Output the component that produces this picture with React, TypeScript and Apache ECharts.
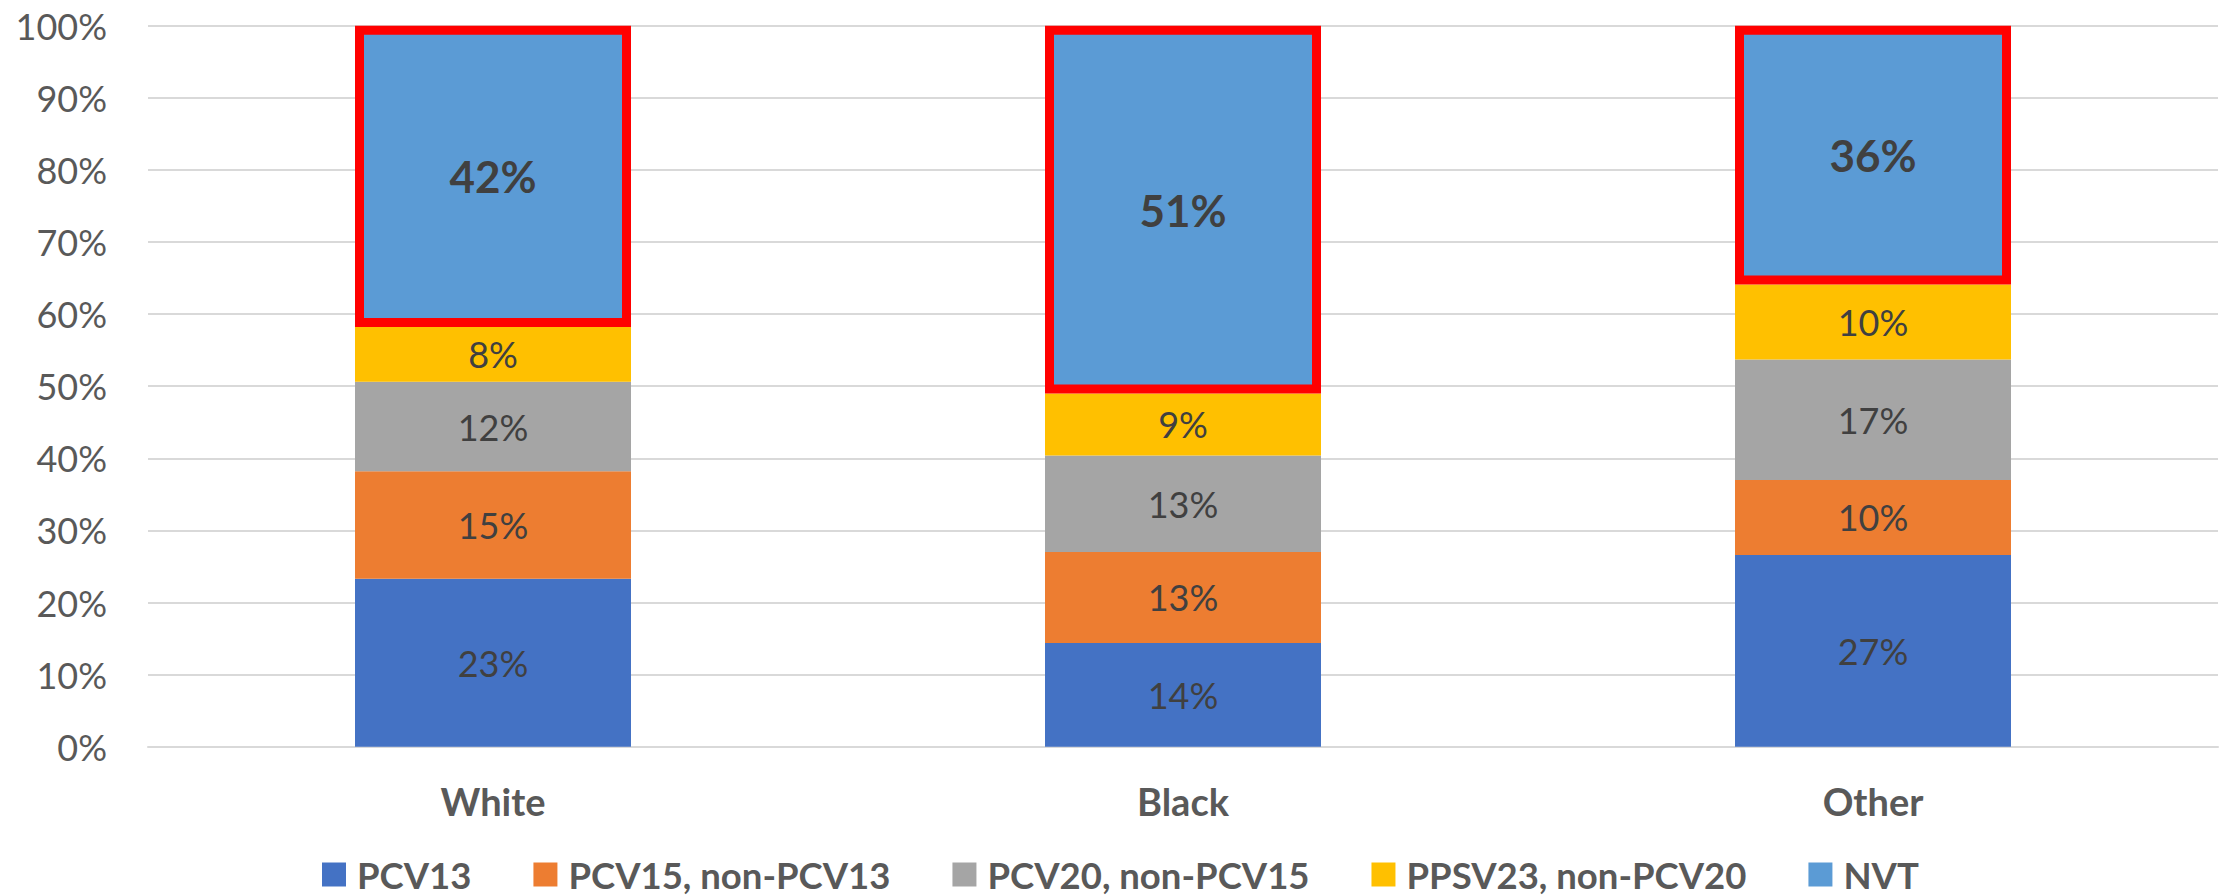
import React, { useEffect, useRef } from "react";
import * as echarts from "echarts";

const categories = ["White", "Black", "Other"];
const seriesNames = ["PCV13", "PCV15, non-PCV13", "PCV20, non-PCV15", "PPSV23, non-PCV20", "NVT"];
const pcv13 = [23.3, 14.4, 26.6];
const pcv15 = [14.9, 12.6, 10.4];
const pcv20 = [12.4, 13.4, 16.7];
const ppsv23 = [7.6, 8.6, 10.4];
const nvt = [41.8, 51.0, 35.9];
const colors = ["#4472C4", "#ED7D31", "#A5A5A5", "#FFC000", "#5B9BD5"];

const FONT = "Lato";

export default function App() {
  const ref = useRef<HTMLDivElement>(null);
  useEffect(() => {
    if (!ref.current) return;
    const chart = echarts.init(ref.current, undefined, { renderer: "svg" });
    const values = [pcv13, pcv15, pcv20, ppsv23, nvt];
    const series = values.map((data, i) => {
      const isNvt = i === 4;
      return {
        name: seriesNames[i],
        type: "bar",
        stack: "total",
        barWidth: "40%",
        data,
        itemStyle: isNvt
          ? { color: colors[i], borderColor: "#FF0000", borderWidth: 9 }
          : { color: colors[i] },
        label: {
          show: true,
          position: "inside",
          formatter: (p: any) => Math.round(p.value) + "%",
          fontFamily: FONT,
          fontSize: isNvt ? 44 : 36,
          fontWeight: isNvt ? "bold" : "normal",
          color: "#404040",
        },
      };
    });
    chart.setOption({
      animation: false,
      color: colors,
      grid: { left: 148, right: 3, top: 25.7, bottom: 149.3, containLabel: false },
      legend: {
        data: seriesNames.map((n) => ({ name: n, itemStyle: { borderWidth: 0 } })),
        top: 856,
        left: 322,
        padding: 0,
        icon: "rect",
        itemWidth: 24,
        itemHeight: 24,
        itemGap: 62,
        textStyle: {
          fontFamily: FONT,
          fontSize: 36.5,
          lineHeight: 34,
          fontWeight: "bold",
          color: "#595959",
          padding: [0, 0, 0, 6],
        },
      },
      xAxis: {
        type: "category",
        data: categories,
        axisLine: { show: true, lineStyle: { color: "#D9D9D9", width: 2 } },
        axisTick: { show: false },
        axisLabel: {
          fontFamily: FONT,
          fontSize: 38,
          fontWeight: "bold",
          color: "#595959",
          margin: 35,
        },
      },
      yAxis: {
        type: "value",
        min: 0,
        max: 100,
        interval: 10,
        axisLine: { show: false },
        axisTick: { show: false },
        splitLine: { lineStyle: { color: "#D9D9D9", width: 2 } },
        axisLabel: {
          formatter: "{value}%",
          fontFamily: FONT,
          fontSize: 36,
          color: "#595959",
          margin: 41,
        },
      },
      series,
    });
    return () => chart.dispose();
  }, []);
  return (
    <div
      ref={ref}
      style={{ position: "fixed", left: 0, top: 0, width: 2221, height: 896, background: "#fff" }}
    />
  );
}
